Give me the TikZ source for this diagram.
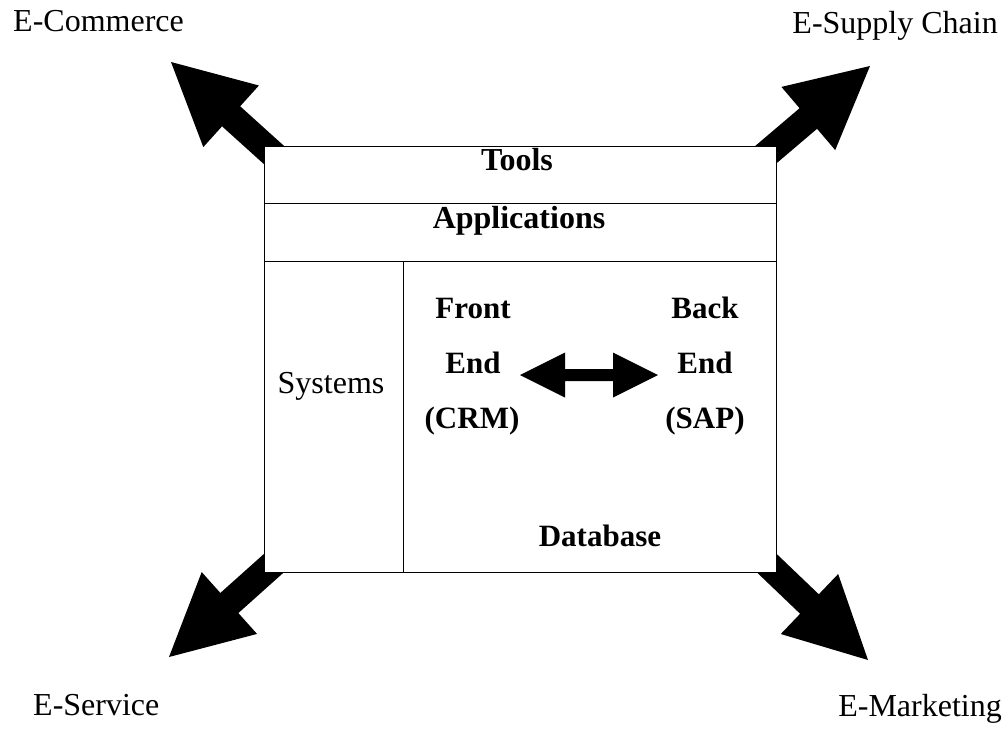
\documentclass[tikz,border=0pt]{standalone}
\usepackage{fontspec}
\setmainfont{Liberation Serif}
\usetikzlibrary{calc}

\tikzset{
  outertext/.style={inner sep=0pt, font=\fontsize{32}{38}\selectfont},
  headtext/.style={inner sep=0pt, font=\fontsize{32}{38}\selectfont\bfseries},
  celltext/.style={inner sep=0pt, font=\fontsize{31}{36}\selectfont\bfseries},
  divider/.style={line width=1pt, black},
  blockfill/.style={fill=black},
}

% Solid block arrow from #1 (start of shaft) to #2 (tip):
% shaft 27 wide, head 83 wide and 81 long.
\newcommand\blockarrow[2]{%
  \path ($(#2)!81pt!(#1)$) coordinate (hb);
  \fill[blockfill] (#2)
    -- ($(hb)!41.5pt!90:(#2)$)
    -- ($(hb)!13.5pt!90:(#2)$)
    -- ($(#1)!13.5pt!90:(#2)$)
    -- ($(#1)!13.5pt!-90:(#2)$)
    -- ($(hb)!13.5pt!-90:(#2)$)
    -- ($(hb)!41.5pt!-90:(#2)$)
    -- cycle;
}

\begin{document}
\begin{tikzpicture}[x=1pt,y=-1pt]
\useasboundingbox (0,0) rectangle (1005,729);

% corners of the central block
\coordinate (cNW) at (264,146);
\coordinate (cNE) at (776,146);
\coordinate (cSW) at (264,572);
\coordinate (cSE) at (776,572);

% tips of the four outward arrows
\coordinate (tEC) at (171,62);
\coordinate (tSC) at (870,66);
\coordinate (tES) at (169,657);
\coordinate (tEM) at (868,660);

% shaft starts, hidden under the block
\coordinate (sNW) at ($(cNW)!-30pt!(tEC)$);
\coordinate (sNE) at ($(cNE)!-30pt!(tSC)$);
\coordinate (sSW) at ($(cSW)!-30pt!(tES)$);
\coordinate (sSE) at ($(cSE)!-30pt!(tEM)$);

\blockarrow{sNW}{tEC}
\blockarrow{sNE}{tSC}
\blockarrow{sSW}{tES}
\blockarrow{sSE}{tEM}

% central block
\node[draw, fill=white, line width=1pt, inner sep=0pt, anchor=north west,
      minimum width=512pt, minimum height=426pt] (frame) at (cNW) {};
\draw[divider] ($(frame.north west)+(0,57)$) -- ($(frame.north east)+(0,57)$);
\draw[divider] ($(frame.north west)+(0,115)$) -- ($(frame.north east)+(0,115)$);
\draw[divider] ($(frame.north west)+(139,115)$) -- ($(frame.south west)+(139,0)$);

% layer titles
\node[headtext, anchor=base] (tools) at (517,170) {Tools};
\node[headtext, anchor=base] (apps) at (519,228) {Applications};
\node[outertext, anchor=base] (sys) at (331,393) {Systems};

% front end / back end
\node[celltext, anchor=base] (fe1) at (473,318) {Front};
\node[celltext, anchor=base] (fe2) at (473,373) {End};
\node[celltext, anchor=base] (fe3) at (472,428) {(CRM)};
\node[celltext, anchor=base] (be1) at (705,318) {Back};
\node[celltext, anchor=base] (be2) at (705,373) {End};
\node[celltext, anchor=base] (be3) at (705,428) {(SAP)};
\node[celltext, anchor=base] (db) at (600,546) {Database};

% two-way arrow between the ends
\coordinate (dl) at (520,375);
\coordinate (dr) at (658,375);
\fill[blockfill] (dl) -- ($(dl)+(45,-22.5)$) -- ($(dl)+(45,-6)$)
  -- ($(dr)+(-45,-6)$) -- ($(dr)+(-45,-22.5)$) -- (dr)
  -- ($(dr)+(-45,22.5)$) -- ($(dr)+(-45,6)$)
  -- ($(dl)+(45,6)$) -- ($(dl)+(45,22.5)$) -- cycle;

% outer labels
\node[outertext, anchor=base west] (ecom) at (13,31) {E-Commerce};
\node[outertext, anchor=base east] (esup) at (998,33) {E-Supply Chain};
\node[outertext, anchor=base west] (eser) at (33,715) {E-Service};
\node[outertext, anchor=base east] (emar) at (1002,716) {E-Marketing};
\end{tikzpicture}
\end{document}
